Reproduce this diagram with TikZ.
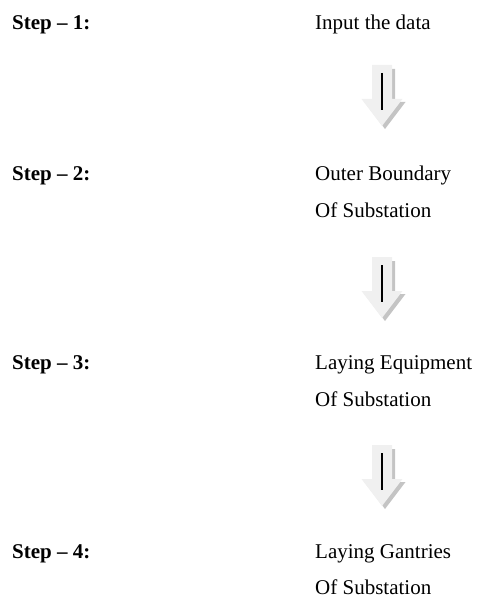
\documentclass[tikz,border=0pt]{standalone}
\usepackage{fontspec}
\setmainfont{Liberation Serif}
\definecolor{arrfill}{HTML}{F0F0F0}
\definecolor{arrshadow}{HTML}{C4C4C4}
\begin{document}
\begin{tikzpicture}[x=1pt,y=-1pt,
  steplabel/.style={anchor=base west,inner sep=0pt,font=\fontsize{21}{25}\selectfont\bfseries},
  desc/.style={anchor=base west,inner sep=0pt,font=\fontsize{21}{25}\selectfont},
  blockarrow/.pic={
    \fill[arrshadow] (-7,4) -- (13,4) -- (13,37) -- (23.5,37) -- (3,64) -- (-17.5,37) -- (-7,37) -- cycle;
    \fill[arrfill] (-10,0) -- (10,0) -- (10,34) -- (20.5,34) -- (0,61) -- (-20.5,34) -- (-10,34) -- cycle;
    \draw[black,line width=2.5pt] (0,8) -- (0,45);
  }]
\useasboundingbox (0,0) rectangle (477,599);
% left column
\node[steplabel] (s1) at (12,30) {Step -- 1:};
\node[steplabel] (s2) at (12,180) {Step -- 2:};
\node[steplabel] (s3) at (12,369) {Step -- 3:};
\node[steplabel] (s4) at (12,558) {Step -- 4:};
% right column
\node[desc] (t1) at (315,30) {Input the data};
\node[desc] (t2) at (315,180) {Outer Boundary};
\node[desc] (o2) at (315,217) {Of Substation};
\node[desc] (t3) at (315,369) {Laying Equipment};
\node[desc] (o3) at (315,406) {Of Substation};
\node[desc] (t4) at (315,558) {Laying Gantries};
\node[desc] (o4) at (315,594) {Of Substation};
% arrows
\coordinate (a1) at (382,65);
\coordinate (a2) at (382,257);
\coordinate (a3) at (382,445);
\pic at (a1) {blockarrow};
\pic at (a2) {blockarrow};
\pic at (a3) {blockarrow};
\end{tikzpicture}
\end{document}
